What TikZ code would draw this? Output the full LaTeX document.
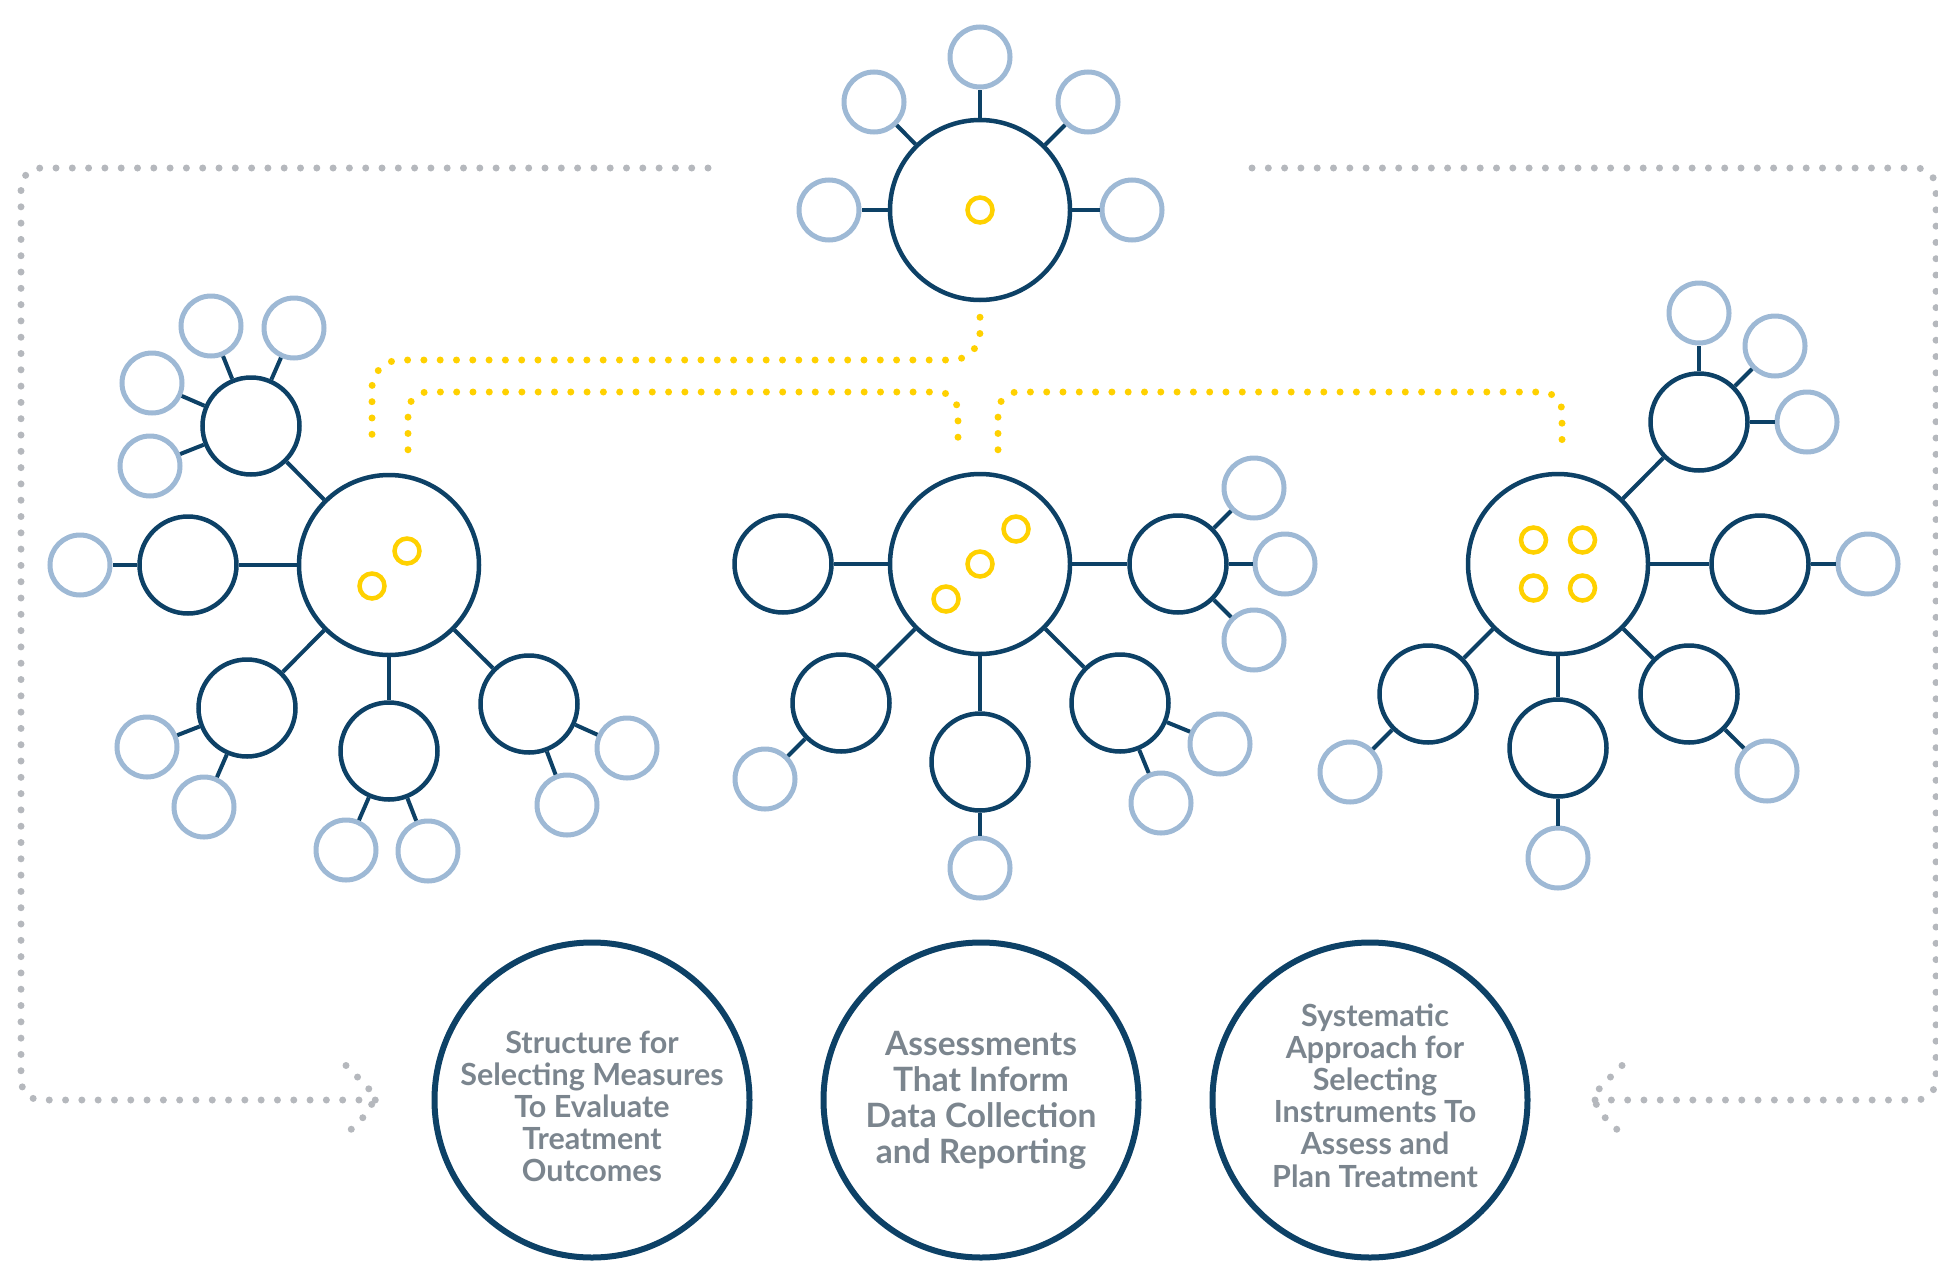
\documentclass[tikz,border=0pt]{standalone}
\usepackage{fontspec}
\setmainfont{Lato}
\usetikzlibrary{positioning}
\definecolor{hubblue}{HTML}{0D4166}
\definecolor{leafblue}{HTML}{9EB9D5}
\definecolor{gold}{HTML}{FFD100}
\definecolor{dotgrey}{HTML}{B5B8BD}
\definecolor{textgrey}{HTML}{7B858E}

\begin{document}
\begin{tikzpicture}
    [
        x=1pt, y=-1pt, on grid,
        hub_node/.style={circle, draw=hubblue, line width=4.5pt, minimum size=180pt, inner sep=0pt},
        mid_node/.style={circle, draw=hubblue, line width=4.5pt, minimum size=97pt, inner sep=0pt},
        leaf_node/.style={circle, draw=leafblue, line width=5pt, minimum size=60pt, inner sep=0pt},
        ring_node/.style={circle, draw=gold, line width=4.5pt, minimum size=25pt, inner sep=0pt},
        text_node/.style={circle, draw=hubblue, line width=6pt, minimum size=315pt, inner sep=0pt, align=center, text=textgrey, font=\bfseries\fontsize{30.5}{32}\selectfont},
        link/.style={draw=hubblue, line width=4pt},
        gold_dots/.style={draw=gold, line width=7pt, line cap=round, dash pattern=on 0pt off 16.3pt, rounded corners=20pt},
        grey_dots/.style={draw=dotgrey, line width=7pt, line cap=round, dash pattern=on 0pt off 16.3pt, rounded corners=20pt},
    ]
        \useasboundingbox (0,0) rectangle (1938,1274);

        % top cluster
        \node[hub_node] (top) at (980,210) {};
        \node[ring_node] (top_ring) at (top) {};
        \node[leaf_node] (t1) [above=153pt of top] {};
        \node[leaf_node] (t2) [above left=108pt and 106pt of top] {};
        \node[leaf_node] (t3) [above right=108pt and 108pt of top] {};
        \node[leaf_node] (t4) [left=151pt of top] {};
        \node[leaf_node] (t5) [right=152pt of top] {};

        % left cluster
        \node[hub_node] (lhub) at (389,565) {};
        \node[ring_node] (lr1) [above right=14pt and 18pt of lhub] {};
        \node[ring_node] (lr2) [below left=21pt and 17pt of lhub] {};
        \node[mid_node] (l1) [above left=139pt and 138pt of lhub] {};
        \node[mid_node] (l2) [left=201pt of lhub] {};
        \node[mid_node] (l3) [below left=143pt and 142pt of lhub] {};
        \node[mid_node] (l4) [below=186pt of lhub] {};
        \node[mid_node] (l5) [below right=139pt and 140pt of lhub] {};
        \node[leaf_node] (l1a) [above left=100pt and 40pt of l1] {};
        \node[leaf_node] (l1b) [above right=98pt and 43pt of l1] {};
        \node[leaf_node] (l1c) [above left=43pt and 99pt of l1] {};
        \node[leaf_node] (l1d) [below left=40pt and 101pt of l1] {};
        \node[leaf_node] (l2a) [left=108pt of l2] {};
        \node[leaf_node] (l3a) [below left=39pt and 100pt of l3] {};
        \node[leaf_node] (l3b) [below left=99pt and 43pt of l3] {};
        \node[leaf_node] (l4a) [below left=99pt and 43pt of l4] {};
        \node[leaf_node] (l4b) [below right=100pt and 39pt of l4] {};
        \node[leaf_node] (l5a) [below right=44pt and 98pt of l5] {};
        \node[leaf_node] (l5b) [below right=101pt and 38pt of l5] {};

        % centre cluster
        \node[hub_node] (chub) at (980,564) {};
        \node[ring_node] (cr1) [below left=35pt and 34pt of chub] {};
        \node[ring_node] (cr2) at (chub) {};
        \node[ring_node] (cr3) [above right=35pt and 36pt of chub] {};
        \node[mid_node] (c1) [left=197pt of chub] {};
        \node[mid_node] (c2) [right=198pt of chub] {};
        \node[mid_node] (c3) [below left=139pt and 139pt of chub] {};
        \node[mid_node] (c4) [below=198pt of chub] {};
        \node[mid_node] (c5) [below right=139pt and 140pt of chub] {};
        \node[leaf_node] (c2a) [above right=76pt and 76pt of c2] {};
        \node[leaf_node] (c2b) [right=107pt of c2] {};
        \node[leaf_node] (c2c) [below right=76pt and 76pt of c2] {};
        \node[leaf_node] (c3a) [below left=76pt and 76pt of c3] {};
        \node[leaf_node] (c4a) [below=106pt of c4] {};
        \node[leaf_node] (c5a) [below right=41pt and 100pt of c5] {};
        \node[leaf_node] (c5b) [below right=100pt and 41pt of c5] {};

        % right cluster
        \node[hub_node] (rhub) at (1558,564) {};
        \node[ring_node] (rr1) [above left=24pt and 24.5pt of rhub] {};
        \node[ring_node] (rr2) [above right=24pt and 24.5pt of rhub] {};
        \node[ring_node] (rr3) [below left=24pt and 24.5pt of rhub] {};
        \node[ring_node] (rr4) [below right=24pt and 24.5pt of rhub] {};
        \node[mid_node] (r1) [above right=142pt and 141pt of rhub] {};
        \node[mid_node] (r2) [right=202pt of rhub] {};
        \node[mid_node] (r3) [below left=130pt and 130pt of rhub] {};
        \node[mid_node] (r4) [below=184pt of rhub] {};
        \node[mid_node] (r5) [below right=130pt and 131pt of rhub] {};
        \node[leaf_node] (r1a) [above=109pt of r1] {};
        \node[leaf_node] (r1b) [above right=76pt and 76pt of r1] {};
        \node[leaf_node] (r1c) [right=108pt of r1] {};
        \node[leaf_node] (r2a) [right=108pt of r2] {};
        \node[leaf_node] (r3a) [below left=78pt and 78pt of r3] {};
        \node[leaf_node] (r4a) [below=110pt of r4] {};
        \node[leaf_node] (r5a) [below right=77pt and 78pt of r5] {};

        % text circles
        \node[text_node] (measures) at (592,1100) {\raisebox{-11pt}[\height][\depth]{\begin{tabular}{@{}c@{}}Structure for\\Selecting Measures\\To Evaluate\\Treatment\\Outcomes\end{tabular}}};
        \node[text_node, font=\bfseries\fontsize{33.5}{36}\selectfont] (assess) at (981,1100) {Assessments\\That Inform\\Data Collection\\and Reporting};
        \node[text_node] (plan) at (1370,1100) {\raisebox{0pt}[\height][\depth]{\kern10pt\begin{tabular}{@{}c@{}}Systematic\\Approach for\\Selecting\\Instruments To\\Assess and\\Plan Treatment\end{tabular}}};

        \draw[link] (top) -- (t1);
        \draw[link] (top) -- (t2);
        \draw[link] (top) -- (t3);
        \draw[link] (top) -- (t4);
        \draw[link] (top) -- (t5);

        \draw[link] (lhub) -- (l1);
        \draw[link] (lhub) -- (l2);
        \draw[link] (lhub) -- (l3);
        \draw[link] (lhub) -- (l4);
        \draw[link] (lhub) -- (l5);
        \draw[link] (l1) -- (l1a);
        \draw[link] (l1) -- (l1b);
        \draw[link] (l1) -- (l1c);
        \draw[link] (l1) -- (l1d);
        \draw[link] (l2) -- (l2a);
        \draw[link] (l3) -- (l3a);
        \draw[link] (l3) -- (l3b);
        \draw[link] (l4) -- (l4a);
        \draw[link] (l4) -- (l4b);
        \draw[link] (l5) -- (l5a);
        \draw[link] (l5) -- (l5b);

        \draw[link] (chub) -- (c1);
        \draw[link] (chub) -- (c2);
        \draw[link] (chub) -- (c3);
        \draw[link] (chub) -- (c4);
        \draw[link] (chub) -- (c5);
        \draw[link] (c2) -- (c2a);
        \draw[link] (c2) -- (c2b);
        \draw[link] (c2) -- (c2c);
        \draw[link] (c3) -- (c3a);
        \draw[link] (c4) -- (c4a);
        \draw[link] (c5) -- (c5a);
        \draw[link] (c5) -- (c5b);

        \draw[link] (rhub) -- (r1);
        \draw[link] (rhub) -- (r2);
        \draw[link] (rhub) -- (r3);
        \draw[link] (rhub) -- (r4);
        \draw[link] (rhub) -- (r5);
        \draw[link] (r1) -- (r1a);
        \draw[link] (r1) -- (r1b);
        \draw[link] (r1) -- (r1c);
        \draw[link] (r2) -- (r2a);
        \draw[link] (r3) -- (r3a);
        \draw[link] (r4) -- (r4a);
        \draw[link] (r5) -- (r5a);

        % yellow dotted links between hubs
        \draw[gold_dots, rounded corners=28pt] ([yshift=-15pt]top.south) |- (372,360) -- ([xshift=-17pt,yshift=23pt]lhub.north);
        \draw[gold_dots] ([xshift=19pt,yshift=23pt]lhub.north) |- (958,392) -- ([xshift=-22pt,yshift=22pt]chub.north);
        \draw[gold_dots] ([xshift=18pt,yshift=22pt]chub.north) |- (1562,392) -- ([xshift=4pt,yshift=22pt]rhub.north);

        % grey dotted frame arrows
        \coordinate (frame_l) at (708,168);
        \coordinate (frame_r) at (1252,168);
        \draw[grey_dots] (frame_l) -| (21,1100) -- ([xshift=-51pt]measures.west);
        \draw[grey_dots] ([xshift=-85.5pt,yshift=34.5pt]measures.west) -- ([xshift=-51pt]measures.west) -- ([xshift=-85.5pt,yshift=-34.5pt]measures.west);
        \draw[grey_dots] (frame_r) -| (1936,1100) -- ([xshift=57pt]plan.east);
        \draw[grey_dots] ([xshift=91.5pt,yshift=34.5pt]plan.east) -- ([xshift=57pt]plan.east) -- ([xshift=91.5pt,yshift=-34.5pt]plan.east);
    \end{tikzpicture}
\end{document}
